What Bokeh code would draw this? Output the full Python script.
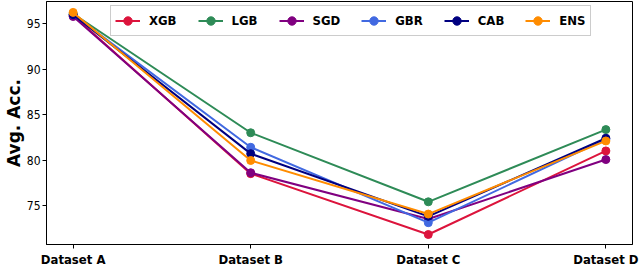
from bokeh.plotting import figure
from bokeh.models import FixedTicker, Legend, LegendItem
from bokeh.embed import file_html
from bokeh.resources import INLINE

categories = ["Dataset A", "Dataset B", "Dataset C", "Dataset D"]
y_ticks = [75, 80, 85, 90, 95]

xgb = [95.9, 78.5, 71.8, 81.0]
lgb = [96.1, 83.0, 75.4, 83.35]
sgd = [95.8, 78.6, 73.5, 80.05]
gbr = [96.0, 81.4, 73.1, 82.3]
cab = [96.0, 80.7, 73.8, 82.4]
ens = [96.25, 79.95, 74.05, 82.1]

series = [
    ("XGB", xgb, "#DC143C"),
    ("LGB", lgb, "#2E8B57"),
    ("SGD", sgd, "#800080"),
    ("GBR", gbr, "#4169E1"),
    ("CAB", cab, "#000080"),
    ("ENS", ens, "#FF8C00"),
]

x = list(range(len(categories)))
FONT = "DejaVu Sans Condensed"

p = figure(width=640, height=269, output_backend="svg", toolbar_location=None,
           x_range=(-0.15, 3.15), y_range=(70.7, 97.45),
           min_border_left=43, min_border_right=8, min_border_top=1, min_border_bottom=25)

p.xgrid.visible = False
p.ygrid.visible = False
p.outline_line_color = "black"
p.outline_line_width = 1
p.outline_line_alpha = 1

p.xaxis.ticker = FixedTicker(ticks=x)
p.xaxis.major_label_overrides = {i: c for i, c in enumerate(categories)}
p.yaxis.ticker = FixedTicker(ticks=y_ticks)

for ax in (p.xaxis[0], p.yaxis[0]):
    ax.major_tick_in = 0
    ax.major_tick_out = 4
    ax.minor_tick_line_color = None
    ax.axis_line_color = "black"
    ax.major_tick_line_color = "black"
    ax.major_label_text_font = FONT
    ax.major_label_text_color = "black"

p.xaxis.major_label_text_font_size = "13px"
p.xaxis.major_label_text_font_style = "bold"
p.xaxis.major_label_standoff = 3
p.yaxis.major_label_text_font_size = "12px"
p.yaxis.major_label_text_font_style = "normal"
p.yaxis.major_label_standoff = 2
p.yaxis.axis_label = "Avg. Acc."
p.yaxis.axis_label_text_font = "DejaVu Sans"
p.yaxis.axis_label_text_font_style = "bold"
p.yaxis.axis_label_text_font_size = "17px"
p.yaxis.axis_label_text_color = "black"
p.yaxis.axis_label_standoff = 0

items = []
for name, vals, col in series:
    r1 = p.line(x, vals, line_color=col, line_width=2)
    r2 = p.scatter(x, vals, size=8, fill_color=col, line_color=col)
    items.append(LegendItem(label=name, renderers=[r1, r2]))

legend = Legend(items=items, orientation="horizontal", location=(64, 208),
                label_text_font=FONT, label_text_font_style="bold",
                label_text_font_size="13px", label_text_color="black",
                glyph_width=25, glyph_height=21,
                label_height=21, label_standoff=9, spacing=21, padding=4,
                border_line_color="#cccccc", border_line_alpha=1,
                background_fill_alpha=0.8, margin=0)
p.add_layout(legend)

open("out.html", "w").write(file_html(p, INLINE))
